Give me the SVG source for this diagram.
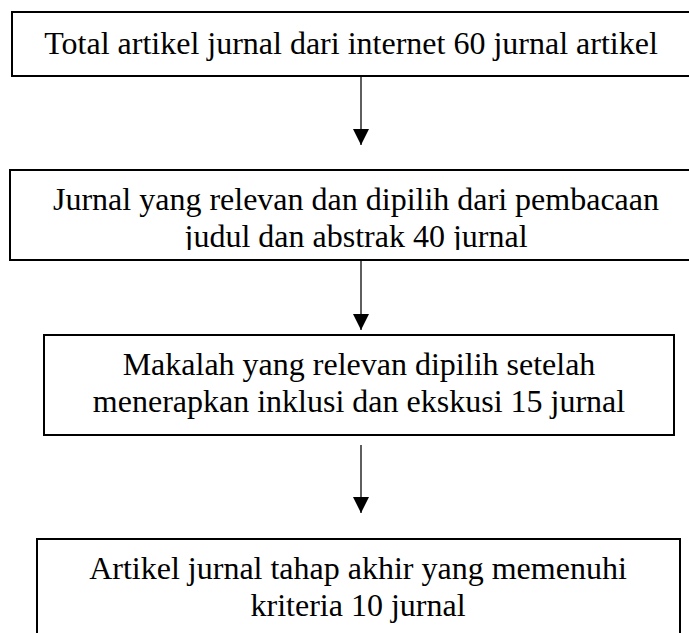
<svg xmlns="http://www.w3.org/2000/svg" width="689" height="633" viewBox="0 0 689 633">
  <style>
    .box { fill: #ffffff; stroke: #000000; stroke-width: 2; }
    .lbl { font-family: "Liberation Serif", "Times New Roman", serif; font-size: 32px; fill: #000000; text-anchor: middle; }
    .conn { stroke: #1a1a1a; stroke-width: 1.4; fill: none; }
  </style>
  <defs>
    <marker id="arrow" markerUnits="userSpaceOnUse" markerWidth="16" markerHeight="16" refX="16" refY="8" orient="auto">
      <path d="M0,0 L16,8 L0,16 Z" fill="#000000"/>
    </marker>
    <clipPath id="clip2">
      <rect x="0" y="160" width="689" height="90"/>
    </clipPath>
  </defs>
  <rect width="689" height="633" fill="#ffffff"/>

  <g id="connectors">
    <line class="conn" x1="361" y1="77" x2="361" y2="145" marker-end="url(#arrow)"/>
    <line class="conn" x1="361" y1="261" x2="361" y2="330" marker-end="url(#arrow)"/>
    <line class="conn" x1="361" y1="445" x2="361" y2="513" marker-end="url(#arrow)"/>
  </g>

  <g id="node1">
    <rect class="box" x="12" y="12" width="690" height="64"/>
    <text class="lbl" x="351" y="54">Total artikel jurnal dari internet 60 jurnal artikel</text>
  </g>

  <g id="node2">
    <rect class="box" x="10" y="170" width="690" height="90"/>
    <g clip-path="url(#clip2)">
      <text class="lbl" x="356" y="210">Jurnal yang relevan dan dipilih dari pembacaan</text>
      <text class="lbl" x="356" y="247">judul dan abstrak 40 jurnal</text>
    </g>
  </g>

  <g id="node3">
    <rect class="box" x="44" y="335" width="630" height="100"/>
    <text class="lbl" x="359" y="375">Makalah yang relevan dipilih setelah</text>
    <text class="lbl" x="359" y="412">menerapkan inklusi dan ekskusi 15 jurnal</text>
  </g>

  <g id="node4">
    <rect class="box" x="37" y="539" width="643" height="120"/>
    <text class="lbl" x="358" y="579">Artikel jurnal tahap akhir yang memenuhi</text>
    <text class="lbl" x="358" y="616">kriteria 10 jurnal</text>
  </g>
</svg>
